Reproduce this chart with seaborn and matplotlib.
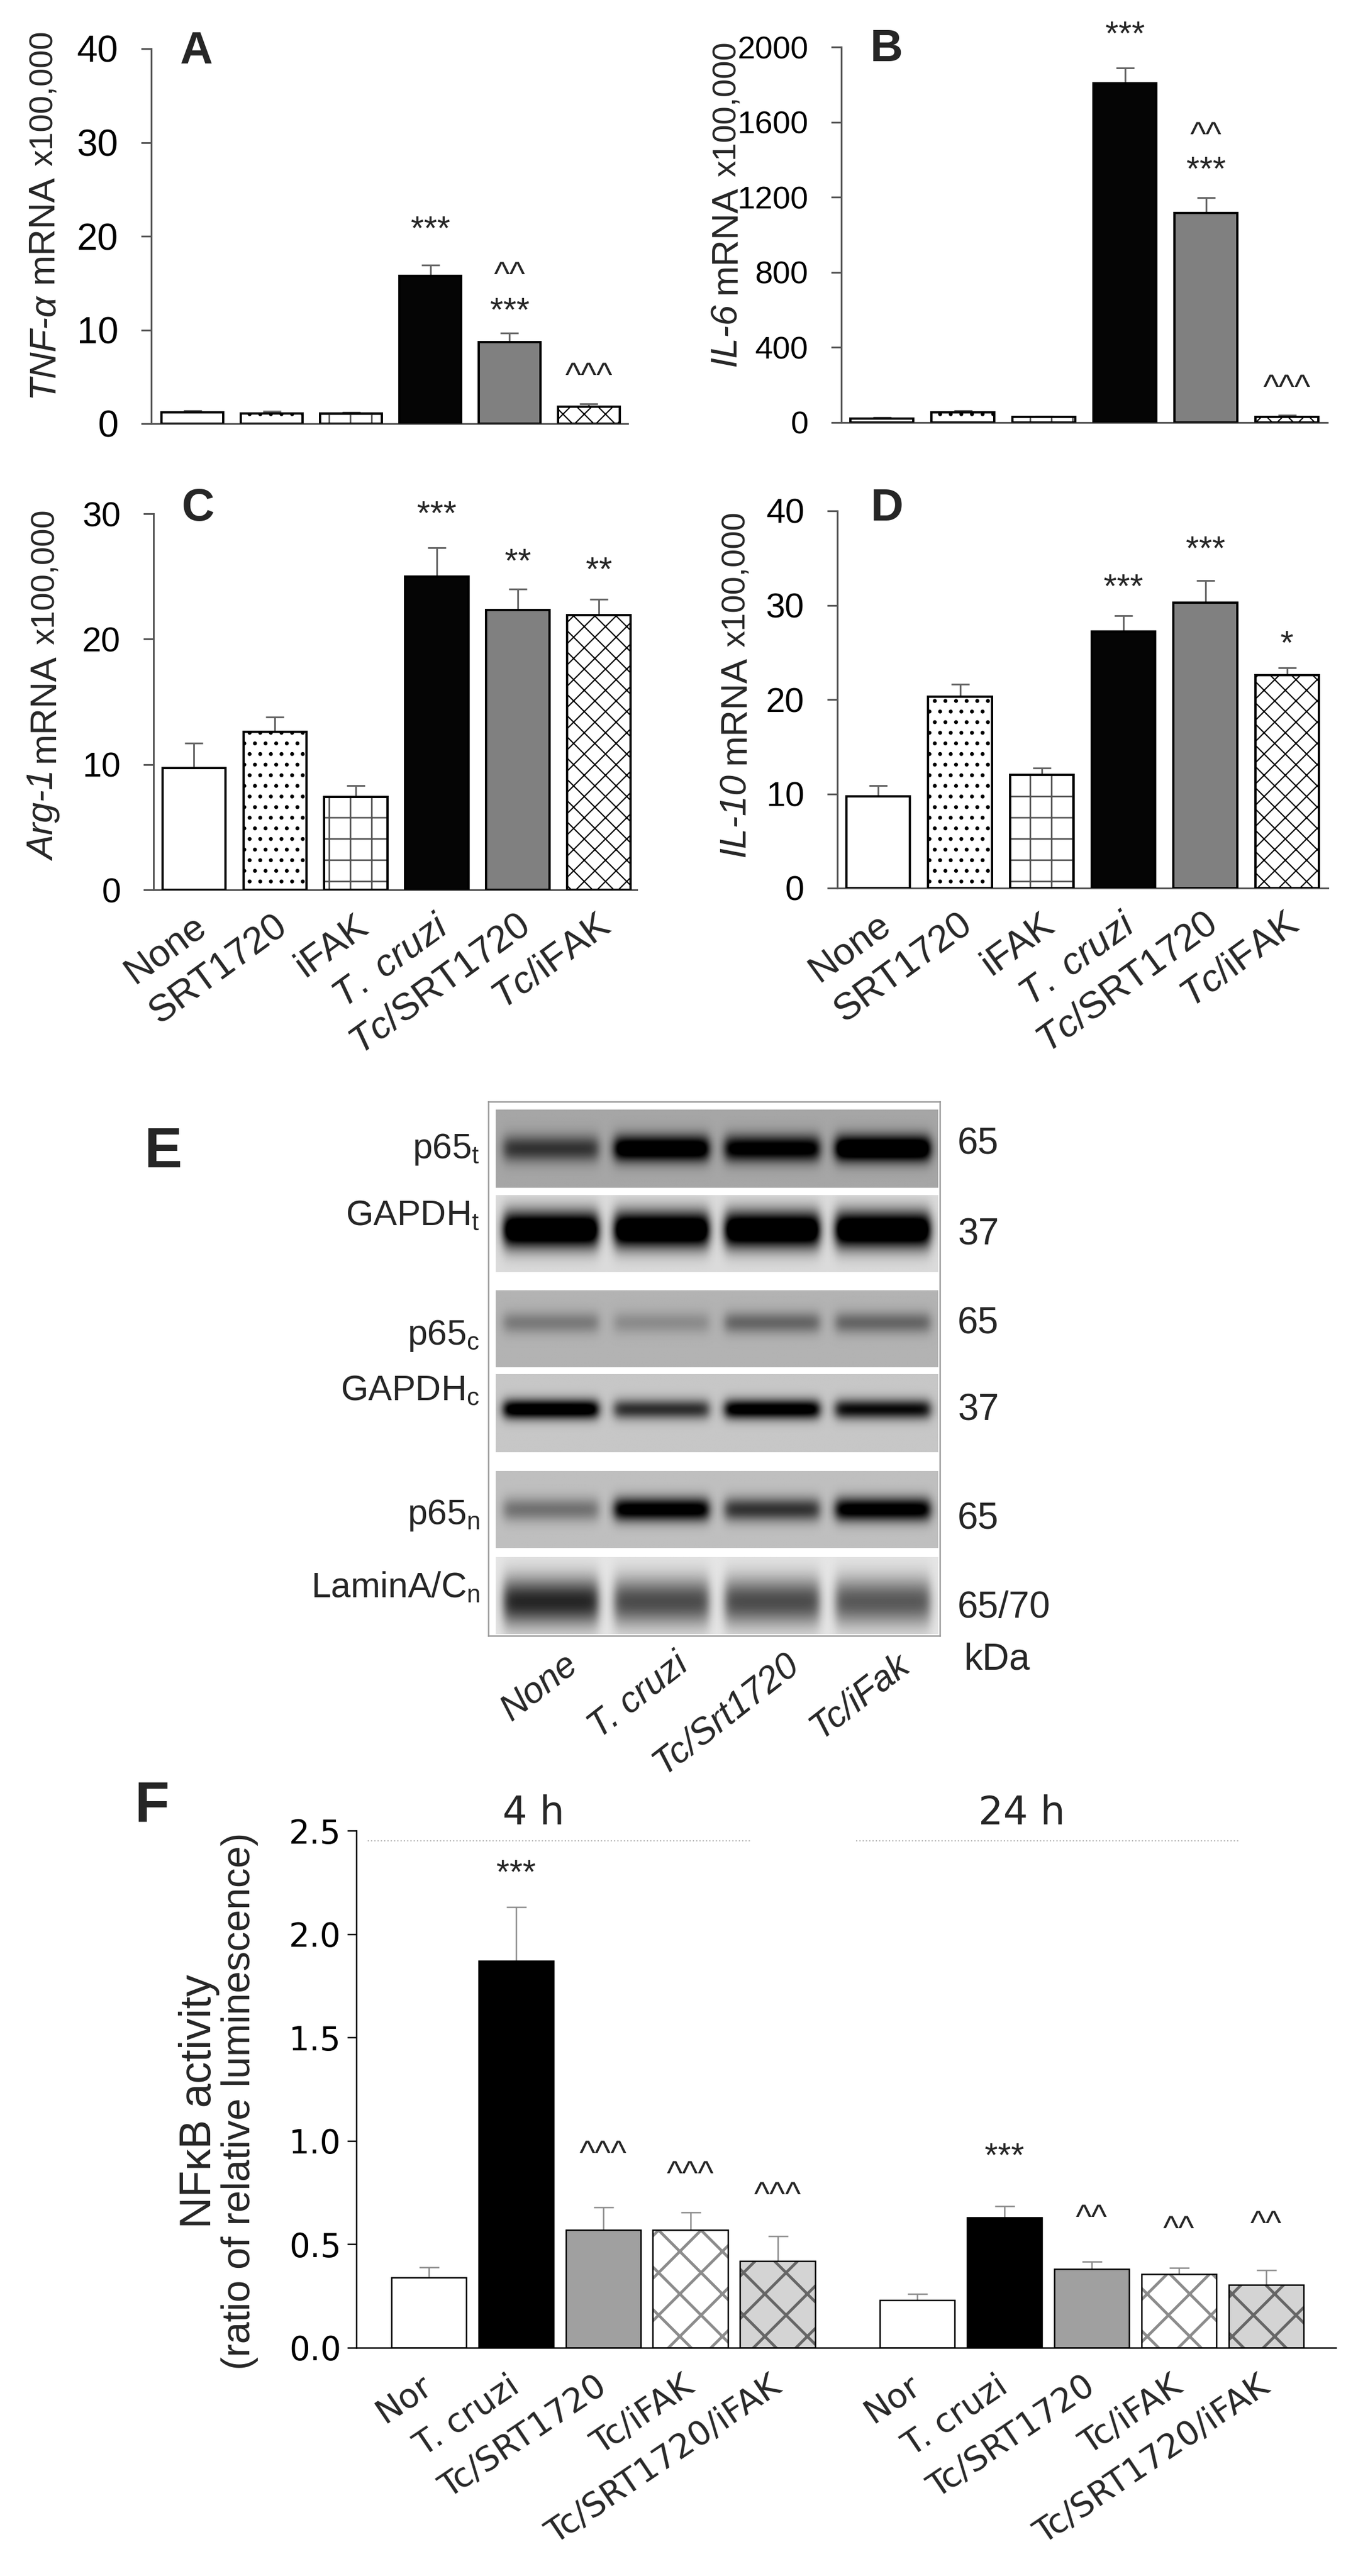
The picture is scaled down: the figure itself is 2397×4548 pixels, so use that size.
import numpy as np
import pandas as pd
import matplotlib
matplotlib.use('Agg')
import matplotlib.pyplot as plt
import matplotlib.transforms as mtransforms
import seaborn as sns

# ---------------- values ----------------
groups = ['None', 'SRT1720', 'iFAK', 'T. cruzi', 'Tc/SRT1720', 'Tc/iFAK']
group_ticklabels = ['None', 'SRT1720', 'iFAK', r'$\mathit{T.\ cruzi}$',
                    r'$\mathit{Tc}$/SRT1720', r'$\mathit{Tc}$/iFAK']

tnf_mean = [1.2, 1.1, 1.1, 15.8, 8.7, 1.8]
tnf_sem = [0.2, 0.2, 0.1, 1.1, 0.95, 0.3]
il6_mean = [21, 54, 30, 1808, 1115, 30]
il6_sem = [5, 10, 4, 79, 82, 8]
arg1_mean = [9.7, 12.6, 7.4, 25.0, 22.3, 21.9]
arg1_sem = [2.0, 1.2, 0.9, 2.3, 1.7, 1.3]
il10_mean = [9.7, 20.3, 12.0, 27.2, 30.3, 22.6]
il10_sem = [1.2, 1.3, 0.75, 1.7, 2.3, 0.75]

# significance marks: (bar index, text, height)
tnf_marks = [(3, '***', 20.6), (4, '^^', 15.7), (4, '***', 11.9), (5, '^^^', 4.9)]
il6_marks = [(3, '***', 2062), (4, '^^', 1521), (4, '***', 1341), (5, '^^^', 177)]
arg1_marks = [(3, '***', 29.9), (4, '**', 26.1), (5, '**', 25.4)]
il10_marks = [(3, '***', 31.8), (4, '***', 35.8), (5, '*', 25.8)]

# western blot (E): band darkness per lane, 0 = white, 1 = black
blot_rows = [r'p65$_\mathregular{t}$', r'GAPDH$_\mathregular{t}$', r'p65$_\mathregular{c}$',
             r'GAPDH$_\mathregular{c}$', r'p65$_\mathregular{n}$', r'LaminA/C$_\mathregular{n}$']
blot_kda = ['65', '37', '65', '37', '65', '65/70']
blot_lanes = ['None', 'T. cruzi', 'Tc/Srt1720', 'Tc/iFak']
blot_background = [0.35, 0.14, 0.30, 0.22, 0.25, 0.10]
blot_bands = [[0.45, 0.85, 0.75, 0.95],
              [1.2, 1.2, 1.2, 1.2],
              [0.22, 0.15, 0.30, 0.30],
              [0.95, 0.60, 0.90, 0.75],
              [0.30, 0.85, 0.55, 0.85],
              [0.75, 0.60, 0.60, 0.55]]

# NF-kB activity (F)
nfkb_conditions = ['Nor', 'T. cruzi', 'Tc/SRT1720', 'Tc/iFAK', 'Tc/SRT1720/iFAK']
nfkb_times = ['4 h', '24 h']
nfkb_4h_mean = [0.34, 1.87, 0.57, 0.57, 0.42]
nfkb_4h_sem = [0.05, 0.26, 0.11, 0.085, 0.12]
nfkb_24h_mean = [0.23, 0.63, 0.38, 0.355, 0.305]
nfkb_24h_sem = [0.03, 0.055, 0.035, 0.03, 0.07]
nfkb_4h_marks = [(1, '***', 2.29), (2, '^^^', 0.93), (3, '^^^', 0.83), (4, '^^^', 0.73)]
nfkb_24h_marks = [(1, '***', 0.92), (2, '^^', 0.62), (3, '^^', 0.565), (4, '^^', 0.59)]

# ---------------- styles ----------------
group_colors = ['white', 'white', 'white', '#050505', '#808080', 'white']
group_hatches = ['', '..', '+', '', '', 'xx']
group_hatch_colors = ['black', 'black', '#555555', 'black', 'black', 'black']
group_hatch_lw = [0, 1.0, 0.9, 0, 0, 0.7]

nfkb_colors = ['white', 'black', '#a0a0a0', 'white', '#d4d4d4']
nfkb_hatches = ['', '', '', 'x', 'x']
nfkb_hatch_colors = ['black', 'black', 'black', '#8c8c8c', '#666666']
nfkb_hatch_lw = [0, 0, 0, 1.6, 1.6]

W, H, DPI = 2397, 4548, 225


def pt(px):
    return px * 72 / DPI


sns.set_theme(style='white')
plt.rcParams['font.family'] = ['Liberation Sans', 'DejaVu Sans']
plt.rcParams['mathtext.fontset'] = 'custom'
plt.rcParams['mathtext.rm'] = 'Liberation Sans'
plt.rcParams['mathtext.it'] = 'Liberation Sans:italic'
plt.rcParams['mathtext.bf'] = 'Liberation Sans:bold'
plt.rcParams['hatch.linewidth'] = 1.0

fig = plt.figure(figsize=(W / DPI, H / DPI), dpi=DPI)


def add_ax(x0, y0, x1, y1):
    return fig.add_axes([x0 / W, 1 - y1 / H, (x1 - x0) / W, (y1 - y0) / H])


def fig_text(x, y, s, **kw):
    return fig.text(x / W, 1 - y / H, s, **kw)


def bar_panel(ax, pos, means, sems, conds, colors, hatches, hatch_colors, hatch_lws,
              width, edge_lw, err_color, err_lw, capsize):
    pos = np.asarray(pos, dtype=float)
    df = pd.DataFrame({'pos': pos, 'value': means, 'cond': conds})
    palette = dict(zip(conds, colors))
    sns.barplot(data=df, x='pos', y='value', hue='cond', palette=palette,
                native_scale=True, dodge=False, width=width, errorbar=None,
                saturation=1, legend=False, linewidth=0, ax=ax)
    for p in ax.patches:
        i = int(np.argmin(np.abs(pos - (p.get_x() + p.get_width() / 2))))
        p.set_linewidth(0)
        if hatches[i]:
            p.set_hatch(hatches[i])
            p.set_edgecolor(hatch_colors[i])
            if hasattr(p, 'set_hatch_linewidth'):
                p.set_hatch_linewidth(hatch_lws[i])
    # black outline on top of the hatched fills
    ax.bar(pos, means, width=width, fill=False, edgecolor='black',
           linewidth=edge_lw, zorder=3)
    eb = ax.errorbar(pos, means, yerr=[np.zeros(len(pos)), sems], fmt='none',
                     ecolor=err_color, elinewidth=err_lw, capsize=capsize,
                     capthick=err_lw, zorder=2.5)
    for cap in eb[1]:
        if np.allclose(cap.get_ydata(), means):
            cap.set_visible(False)


def style_axes(ax, color, lw, tick_len, pad, labelsize):
    sns.despine(ax=ax)
    for s in ['left', 'bottom']:
        ax.spines[s].set_color(color)
        ax.spines[s].set_linewidth(lw)
    ax.tick_params(axis='y', left=True, length=tick_len, width=lw, color=color,
                   pad=pad, labelsize=labelsize, labelcolor='black')
    ax.tick_params(axis='x', bottom=False, length=0)
    ax.set_xlabel('')
    ax.set_ylabel('')


ylabels = []


def stacked_ylabel(x_px, yc_px, parts, gap=16):
    texts = [fig.text(0, 0, s, fontsize=size, rotation=90, rotation_mode='anchor',
                      ha='left', va='baseline', **kw) for s, size, kw in parts]
    ylabels.append((x_px, yc_px, texts, gap))


# ---------------- panels A-D ----------------
panels = [
    dict(box=(267, 86, 1108, 748), xlim=(-0.52, 5.49), ylim=40, ticks=[0, 10, 20, 30, 40], tsize=21,
         mean=tnf_mean, sem=tnf_sem, marks=tnf_marks, gene='TNF-α', lab=(93, 378),
         letter='A', lpos=(318, 112), xlabels=False),
    dict(box=(1485, 83, 2343, 746), xlim=(-0.5, 5.5), ylim=2000, ticks=[0, 400, 800, 1200, 1600, 2000], tsize=18,
         mean=il6_mean, sem=il6_sem, marks=il6_marks, gene='IL-6', lab=(1299, 360),
         letter='B', lpos=(1536, 108), xlabels=False),
    dict(box=(271, 907, 1124, 1571), xlim=(-0.5, 5.47), ylim=30, ticks=[0, 10, 20, 30], tsize=19.5,
         mean=arg1_mean, sem=arg1_sem, marks=arg1_marks, gene='Arg-1', lab=(96, 1210),
         letter='C', lpos=(321, 919), xlabels=True),
    dict(box=(1478, 902, 2344, 1568), xlim=(-0.5, 5.5), ylim=40, ticks=[0, 10, 20, 30, 40], tsize=19.5,
         mean=il10_mean, sem=il10_sem, marks=il10_marks, gene='IL-10', lab=(1315, 1208),
         letter='D', lpos=(1537, 919), xlabels=True),
]

for pnl in panels:
    ax = add_ax(*pnl['box'])
    pos = np.arange(len(groups))
    bar_panel(ax, pos, pnl['mean'], pnl['sem'], groups, group_colors, group_hatches,
              group_hatch_colors, group_hatch_lw, width=0.78, edge_lw=1.3,
              err_color='#666666', err_lw=1.0, capsize=5)
    style_axes(ax, '#555555', 1.0, pt(18), pt(40), pnl['tsize'])
    ax.set_xlim(*pnl['xlim'])
    ax.set_ylim(0, pnl['ylim'])
    ax.set_yticks(pnl['ticks'])
    ax.set_yticklabels([str(t) for t in pnl['ticks']])
    ax.set_xticks(pos)
    if pnl['xlabels']:
        ax.set_xticklabels(group_ticklabels, rotation=36, ha='right', va='center',
                           rotation_mode='anchor', fontsize=21.5)
        ax.tick_params(axis='x', pad=pt(58))
        shift = mtransforms.ScaledTranslation(15 / DPI, 0, fig.dpi_scale_trans)
        for lab in ax.get_xticklabels():
            lab.set_transform(lab.get_transform() + shift)
    else:
        ax.set_xticklabels([])
    for i, txt, y in pnl['marks']:
        ax.text(pos[i], y, txt, ha='center', va='center', fontsize=19, clip_on=False)
    stacked_ylabel(pnl['lab'][0], pnl['lab'][1],
                   [(pnl['gene'], 20.8, {'style': 'italic'}), ('mRNA', 20.8, {}),
                    ('x100,000', 18.6, {})])
    fig_text(*pnl['lpos'], pnl['letter'], fontsize=25.6, fontweight='bold', va='baseline')

# ---------------- panel E (blot) ----------------
ax_e = add_ax(862, 1945, 1659, 2888)
strip_y = [(14, 152), (165, 301), (333, 469), (481, 619), (652, 788), (804, 940)]
band_center = [0.50, 0.45, 0.42, 0.45, 0.50, 0.58]
band_sigma = [0.12, 0.17, 0.10, 0.09, 0.11, 0.22]
strip_x0, strip_x1 = 13, 794
yy = np.linspace(0, 1, 120)[:, None]
uu = np.linspace(0, 1, 120)[None, :]
lane_shape = 1 / (1 + np.exp(-(uu - 0.07) / 0.025)) * 1 / (1 + np.exp((uu - 0.93) / 0.025))
for r in range(len(blot_rows)):
    vert = np.exp(-0.5 * ((yy - band_center[r]) / band_sigma[r]) ** 2)
    img = np.hstack([blot_background[r] + amp * vert * lane_shape for amp in blot_bands[r]])
    y0, y1 = strip_y[r]
    ax_e.imshow(np.clip(img, 0, 1), cmap='gray_r', vmin=0, vmax=1, origin='upper',
                extent=(strip_x0, strip_x1, y1, y0), aspect='auto', interpolation='bilinear')
ax_e.set_xlim(0, 797)
ax_e.set_ylim(943, 0)
ax_e.set_aspect('auto')
ax_e.set_xticks([])
ax_e.set_yticks([])
for s in ax_e.spines.values():
    s.set_color('#9a9a9a')
    s.set_linewidth(0.8)

row_label_base = [2045, 2163, 2374, 2472, 2691, 2820]
kda_base = [2037, 2198, 2355, 2508, 2699, 2856]
for r in range(len(blot_rows)):
    fig_text(847, row_label_base[r], blot_rows[r], fontsize=20, ha='right', va='baseline')
    fig_text(1690, kda_base[r], blot_kda[r], fontsize=21, ha='left', va='baseline')
fig_text(1702, 2948, 'kDa', fontsize=21, ha='left', va='baseline')
lane_w = (strip_x1 - strip_x0) / len(blot_lanes)
for i, name in enumerate(blot_lanes):
    xc = 862 + strip_x0 + lane_w * (i + 0.5)
    fig_text(xc + 50, 2945, name, fontsize=20.5, style='italic', rotation=38,
             rotation_mode='anchor', ha='right', va='baseline')
fig_text(254, 2061, 'E', fontsize=32, fontweight='bold', va='baseline')

# ---------------- panel F ----------------
ax_f = add_ax(629, 3232, 2358, 4145)
pos_4h = np.arange(5, dtype=float)
pos_24h = np.arange(5, dtype=float) + 5.6
pos_f = np.concatenate([pos_4h, pos_24h])
bar_panel(ax_f, pos_f, nfkb_4h_mean + nfkb_24h_mean, nfkb_4h_sem + nfkb_24h_sem,
          nfkb_conditions * 2, nfkb_colors * 2, nfkb_hatches * 2, nfkb_hatch_colors * 2,
          nfkb_hatch_lw * 2, width=0.86, edge_lw=0.8, err_color='#8a8a8a', err_lw=0.8,
          capsize=5.6)
style_axes(ax_f, 'black', 0.8, pt(16), pt(11), 18.5)
ax_f.set_xlim(-0.83, 10.4)
ax_f.set_ylim(0, 2.5)
ax_f.set_yticks([0, 0.5, 1.0, 1.5, 2.0, 2.5])
ax_f.set_yticklabels(['0.0', '0.5', '1.0', '1.5', '2.0', '2.5'])
for lab in ax_f.get_yticklabels():
    lab.set_family('DejaVu Sans')
ax_f.set_xticks(pos_f)
ax_f.set_xticklabels(nfkb_conditions * 2, rotation=34, ha='right', va='center',
                     rotation_mode='anchor', fontsize=19, family='DejaVu Sans')
ax_f.tick_params(axis='x', pad=pt(62))
for gpos, marks, title in [(pos_4h, nfkb_4h_marks, nfkb_times[0]),
                           (pos_24h, nfkb_24h_marks, nfkb_times[1])]:
    for i, txt, y in marks:
        ax_f.text(gpos[i], y, txt, ha='center', va='center', fontsize=19)
    gc = gpos.mean()
    ax_f.hlines(2.45, gc - 2.7, gc + 1.7, colors='#b5b5b5', linestyles=':', linewidth=0.7)
    ax_f.text(gc - 0.8, 2.53, title, ha='center', va='baseline', fontsize=22,
              family='DejaVu Sans', clip_on=False)
fig_text(372, 3710, 'NFκB activity', fontsize=24.6, rotation=90, rotation_mode='anchor',
         ha='center', va='baseline')
fig_text(441, 3710, '(ratio of relative luminescence)', fontsize=22.3, rotation=90,
         rotation_mode='anchor', ha='center', va='baseline')
fig_text(237, 3215, 'F', fontsize=32, fontweight='bold', va='baseline')

# place the multi-part y labels once text sizes are known
fig.canvas.draw()
renderer = fig.canvas.get_renderer()
for x_px, yc_px, texts, gap in ylabels:
    lengths = [t.get_window_extent(renderer).height for t in texts]
    y = (H - yc_px) - (sum(lengths) + gap * (len(texts) - 1)) / 2
    for t, L in zip(texts, lengths):
        t.set_position((x_px / W, y / H))
        y += L + gap

fig.savefig('out.png', dpi=DPI, facecolor='white')
